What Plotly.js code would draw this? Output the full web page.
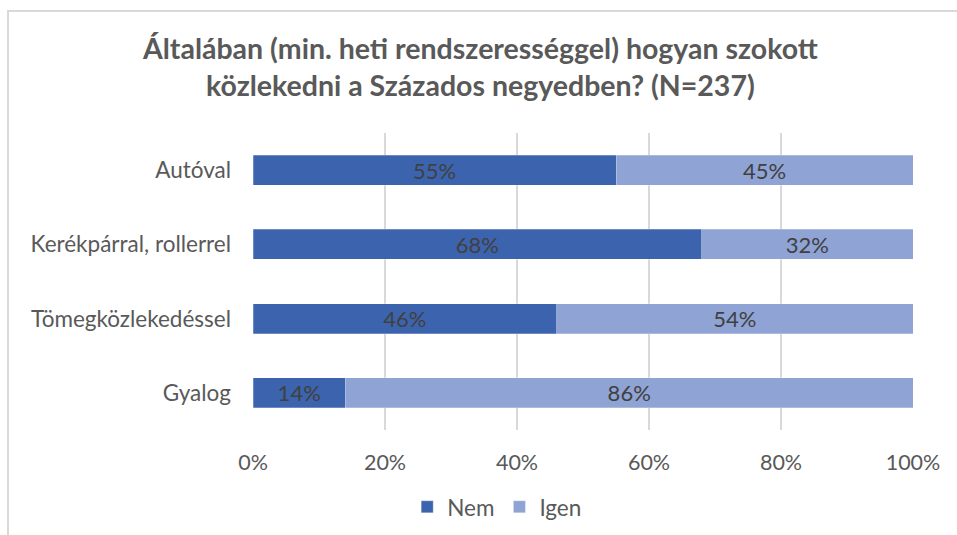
<!DOCTYPE html>
<html>
<head>
<meta charset="utf-8">
<script src="https://cdn.plot.ly/plotly-3.0.1.min.js"></script>
<style>
html,body{margin:0;padding:0;background:#fff;}
#chart{position:absolute;left:0;top:0;width:957px;height:535px;}
#frame{position:absolute;left:7px;top:10px;width:960px;height:540px;border-left:2px solid #d9d9d9;border-top:2px solid #d9d9d9;pointer-events:none;}
</style>
</head>
<body>
<div id="chart"></div>
<div id="frame"></div>
<script>
const categories = ["Autóval", "Kerékpárral, rollerrel", "Tömegközlekedéssel", "Gyalog"];
const nemValues = [55, 68, 46, 14];
const igenValues = [45, 32, 54, 86];
const tickValues = [0, 20, 40, 60, 80, 100];
const tickLabels = ["0%", "20%", "40%", "60%", "80%", "100%"];

const fontFam = "Lato, 'Open Sans', sans-serif";
const labelFont = {family: fontFam, size: 22, color: "#404040"};

const traces = [
  {type: "bar", orientation: "h", name: "Nem", y: categories, x: nemValues,
   marker: {color: "#3C64AE", line: {color: "rgba(255,255,255,0.5)", width: 0.5}},
   width: 0.405, text: nemValues.map(v => v + "%"), textposition: "inside", constraintext: "none",
   insidetextanchor: "middle", textfont: labelFont, hoverinfo: "none", cliponaxis: false},
  {type: "bar", orientation: "h", name: "Igen", y: categories, x: igenValues,
   marker: {color: "#8FA3D5", line: {color: "rgba(255,255,255,0.5)", width: 0.5}},
   width: 0.405, text: igenValues.map(v => v + "%"), textposition: "inside", constraintext: "none",
   insidetextanchor: "middle", textfont: labelFont, hoverinfo: "none", cliponaxis: false}
];

const layout = {
  width: 957, height: 535,
  margin: {l: 253, r: 44, t: 133, b: 105},
  paper_bgcolor: "rgba(0,0,0,0)", plot_bgcolor: "rgba(0,0,0,0)",
  barmode: "stack",
  uniformtext: {mode: false},
  title: {text: "Általában (min. heti rendszerességgel) hogyan szokott<br>közlekedni a Százados negyedben? (N=237)",
          x: 0.502, xref: "container", y: 0.89, yref: "container", yanchor: "middle", xanchor: "center",
          font: {family: fontFam, size: 28.5, color: "#595959", weight: "bold"}},
  xaxis: {range: [0, 100], tickvals: tickValues, ticktext: tickLabels, automargin: false,
          showgrid: true, gridcolor: "#d9d9d9", gridwidth: 1.5, zeroline: false,
          showline: false, ticks: "", tickfont: {family: fontFam, size: 21.5, color: "#595959"},
          ticklabelstandoff: 17, fixedrange: true},
  yaxis: {type: "category", autorange: "reversed", showgrid: false, zeroline: false, automargin: false,
          ticks: "", tickfont: {family: fontFam, size: 22.5, color: "#595959"},
          ticklabelstandoff: 21, fixedrange: true},
  legend: {orientation: "h", x: 0.37, xanchor: "center", y: 0.052, yref: "container", yanchor: "middle",
           font: {family: fontFam, size: 22.5, color: "#595959"}, traceorder: "normal",
           itemwidth: 30},
  showlegend: true
};

Plotly.newPlot("chart", traces, layout, {displayModeBar: false, staticPlot: true});
</script>
</body>
</html>
